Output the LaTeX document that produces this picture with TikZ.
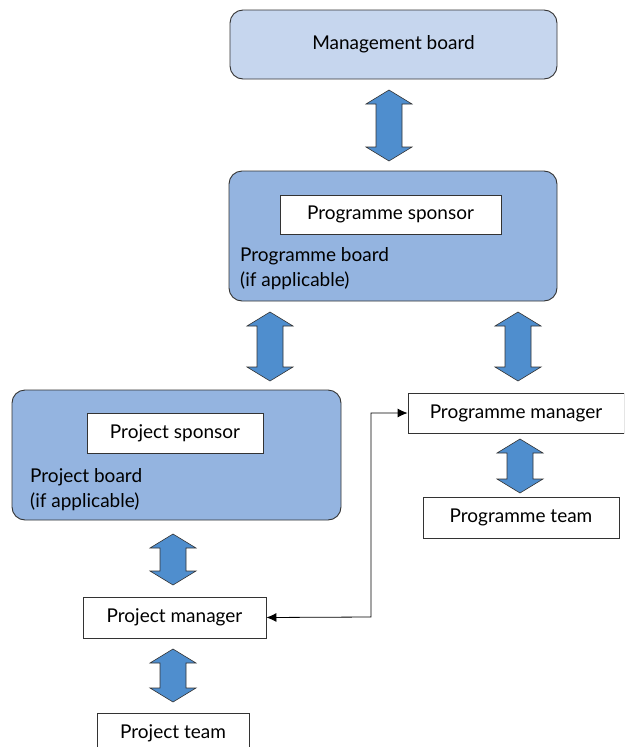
\documentclass[tikz,border=0pt]{standalone}
\usepackage{fontspec}
\setmainfont{Lato}
\usetikzlibrary{arrows.meta}
\definecolor{mgmtfill}{HTML}{C6D6EE}
\definecolor{boardfill}{HTML}{94B4E0}
\definecolor{arrowfill}{HTML}{4F8ECE}
\definecolor{edge}{HTML}{333333}
\begin{document}
\begin{tikzpicture}[x=1pt,y=-1pt,
  board/.style={draw=edge,line width=0.9pt,rounded corners=13pt,fill=boardfill},
  whitebox/.style={draw=edge,line width=0.8pt,fill=white,inner sep=0pt,font=\fontsize{19}{22}\selectfont},
  lbl/.style={font=\fontsize{19}{25}\selectfont,align=left,inner sep=0pt,anchor=north west},
  blockarrow/.style={draw=edge,line width=0.6pt,fill=arrowfill,line join=miter},
  link/.style={draw=black,line width=0.8pt,{Latex[length=10pt,width=9pt]}-{Latex[length=10pt,width=9pt]}}
]
\useasboundingbox (0,0) rectangle (624,747);
\clip (0,0) rectangle (624,747);
\newcommand\dblarrow[3]{%
  \draw[blockarrow] (#1,#2) -- (#1+23,#2+14) -- (#1+13,#2+14) -- (#1+13,#3-14) -- (#1+23,#3-14)
    -- (#1,#3) -- (#1-23,#3-14) -- (#1-13,#3-14) -- (#1-13,#2+14) -- (#1-23,#2+14) -- cycle;}

% Management board
\node[board,fill=mgmtfill,minimum width=327pt,minimum height=69pt,
      font=\fontsize{19}{22}\selectfont] (mgmt) at (393.5,44.5) {Management board};

% Programme board
\node[board,minimum width=328pt,minimum height=130pt] (pgboard) at (393,236) {};
\node[whitebox,minimum width=221pt,minimum height=39pt] (pgsponsor) at (390.5,214.5) {Programme sponsor};
\node[lbl] (pgboardlbl) at (240,247) {Programme board\\(if applicable)};

% Project board
\node[board,minimum width=329pt,minimum height=130pt] (pjboard) at (176.5,455) {};
\node[whitebox,minimum width=176pt,minimum height=40pt] (pjsponsor) at (175,433) {Project sponsor};
\node[lbl] (pjboardlbl) at (30,468) {Project board\\(if applicable)};

% Programme manager / team
\node[whitebox,minimum width=216pt,minimum height=40pt] (pgmgr) at (516,413) {Programme manager};
\node[whitebox,minimum width=196pt,minimum height=41pt] (pgteam) at (521,517.5) {Programme team};

% Project manager / team
\node[whitebox,minimum width=183pt,minimum height=41pt] (pjmgr) at (174.5,617.5) {Project manager};
\node[whitebox,minimum width=152pt,minimum height=40pt] (pjteam) at (173,733) {Project team};

% Block arrows
\dblarrow{389}{90}{161}
\dblarrow{270}{312}{381}
\dblarrow{518}{312}{381}
\dblarrow{520}{439}{493}
\dblarrow{173}{534}{585}
\dblarrow{173}{649}{702}

% Link between managers
\coordinate (bend1) at (371,617);
\draw[link] (pjmgr.east) -- (bend1) |- (pgmgr.west);
\end{tikzpicture}
\end{document}
